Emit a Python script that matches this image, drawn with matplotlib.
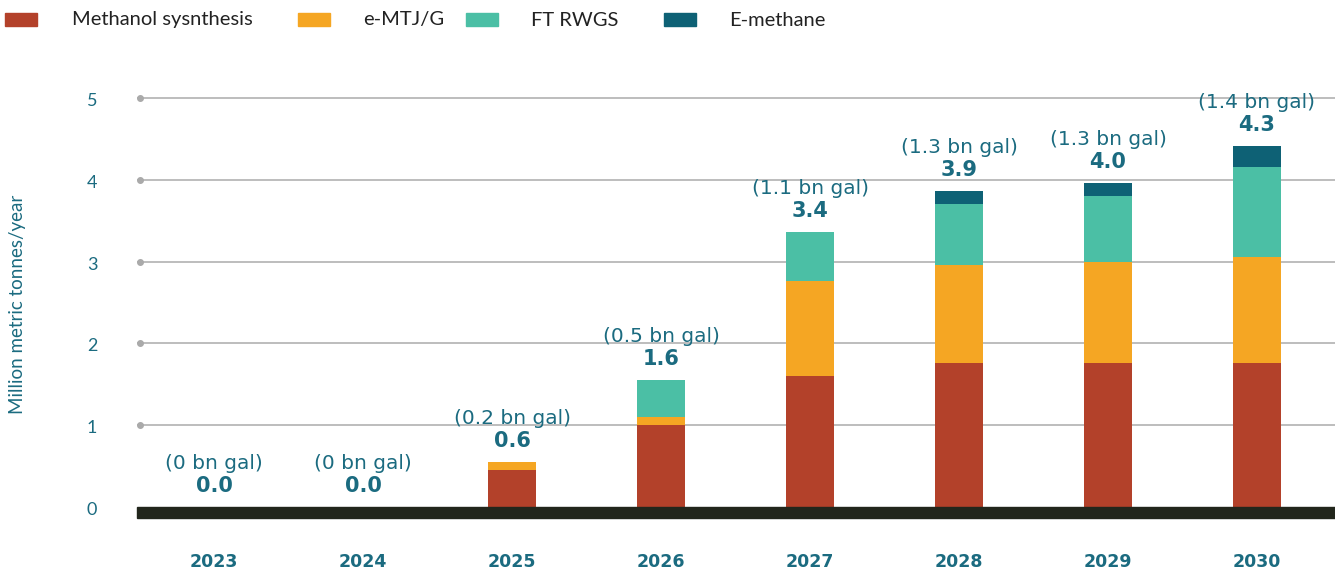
import matplotlib
matplotlib.use("Agg")
import matplotlib.pyplot as plt
from matplotlib.patches import Rectangle
import numpy as np

years = ["2023", "2024", "2025", "2026", "2027", "2028", "2029", "2030"]
series_names = ["Methanol sysnthesis", "e-MTJ/G", "FT RWGS", "E-methane"]
methanol = [0, 0, 0.45, 1.00, 1.60, 1.76, 1.76, 1.76]
emtj = [0, 0, 0.10, 0.10, 1.16, 1.20, 1.24, 1.30]
ft_rwgs = [0, 0, 0, 0.45, 0.60, 0.74, 0.80, 1.10]
emethane = [0, 0, 0, 0, 0, 0.16, 0.16, 0.25]
total_labels = ["0.0", "0.0", "0.6", "1.6", "3.4", "3.9", "4.0", "4.3"]
gal_labels = ["(0 bn gal)", "(0 bn gal)", "(0.2 bn gal)", "(0.5 bn gal)",
              "(1.1 bn gal)", "(1.3 bn gal)", "(1.3 bn gal)", "(1.4 bn gal)"]
yticks = [0, 1, 2, 3, 4, 5]

colors = ["#B3412A", "#F5A623", "#4BBFA5", "#0E6175"]
txt = "#1B6B80"
W, H = 1335, 571
plt.rcParams['font.family'] = ['Lato', 'DejaVu Sans']
fig = plt.figure(figsize=(W / 100, H / 100), dpi=100)

ymin, ymax = -0.14, 5.3
ppu = 81.8
x0px, dxpx = 214, 149
ax_bottom_px = 507 + 0.14 * ppu
ax_top_px = 507 - ymax * ppu
left_px, right_px = 137, 1335
ax = fig.add_axes([left_px / W, 1 - ax_bottom_px / H, (right_px - left_px) / W,
                   (ax_bottom_px - ax_top_px) / H])
x = np.arange(len(years))
xlo = (left_px - x0px) / dxpx
xhi = (right_px - x0px) / dxpx
ax.set_xlim(xlo, xhi)
ax.set_ylim(ymin, ymax)

for v in yticks[1:]:
    ax.axhline(v, color="#bdbdbd", lw=1.4, zorder=0)
    ax.plot([xlo + 0.02], [v], marker="o", ms=4, color="#aaaaaa", clip_on=False, zorder=1)

bw = 48 / dxpx
bottom = np.zeros(len(years))
for vals, c in zip([methanol, emtj, ft_rwgs, emethane], colors):
    ax.bar(x, vals, bw, bottom=bottom, color=c, zorder=2, linewidth=0)
    bottom += np.array(vals)

ax.add_patch(Rectangle((xlo, ymin), xhi - xlo, -ymin, color="#22261C", zorder=3, clip_on=False))

for i in range(len(years)):
    top = bottom[i]
    ax.text(x[i], top + 15 / ppu, total_labels[i], ha="center", va="baseline",
            fontsize=15, fontweight="bold", family="DejaVu Sans", color=txt, zorder=4)
    ax.text(x[i], top + 38 / ppu, gal_labels[i], ha="center", va="baseline",
            fontsize=14.5, family="DejaVu Sans", color=txt, zorder=4)

for s in ax.spines.values():
    s.set_visible(False)
ax.set_xticks([])
ax.set_yticks([])

for v in yticks:
    fig.text(92 / W, 1 - (507 - v * ppu + 3) / H, str(v), ha="center", va="center",
             fontsize=13, color=txt)
for i, yr in enumerate(years):
    fig.text((x0px + dxpx * i) / W, 1 - 562 / H, yr, ha="center", va="center",
             fontsize=12.5, fontweight="bold", family="DejaVu Sans", color=txt)

fig.text(18 / W, 1 - 304 / H, "Million metric tonnes/year", rotation=90,
         ha="center", va="center", fontsize=13.5, color=txt)

handle_x = [5, 298, 466, 664]
text_x = [72, 363, 531, 729]
for hx, tx, name, c in zip(handle_x, text_x, series_names, colors):
    fig.patches.append(Rectangle((hx / W, 1 - 26 / H), 32 / W, 13 / H, color=c,
                                 transform=fig.transFigure, figure=fig))
    fig.text(tx / W, 1 - 20 / H, name, ha="left", va="center", fontsize=14.5, color="#222222")

fig.savefig("out.png", dpi=100)
